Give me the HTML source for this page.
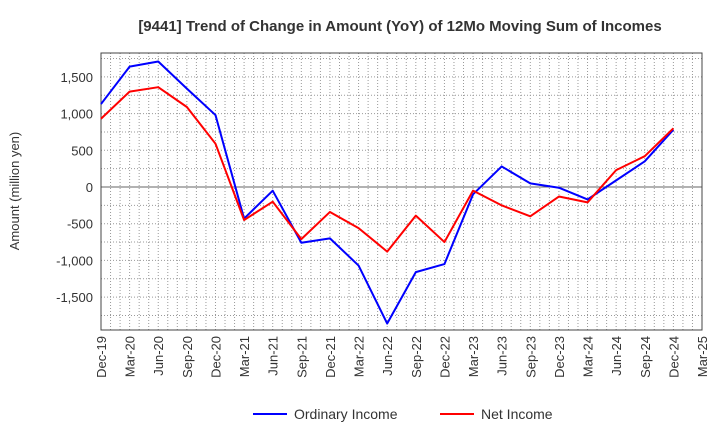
<!DOCTYPE html>
<html><head><meta charset="utf-8"><style>
body{margin:0;background:#fff;font-family:"Liberation Sans",sans-serif}
</style></head><body>
<svg id="chart" width="720" height="440" xmlns="http://www.w3.org/2000/svg" font-family="Liberation Sans, sans-serif">
<text x="400" y="31" text-anchor="middle" font-size="15" font-weight="bold" fill="#333">[9441]  Trend of Change in Amount (YoY) of 12Mo Moving Sum of Incomes</text>
<text transform="translate(19,191) rotate(-90)" text-anchor="middle" font-size="13" fill="#333">Amount (million yen)</text>
<g id="grid"></g><g id="axes"></g><g id="series"></g>
<g>
<line x1="253" y1="414" x2="287" y2="414" stroke="#0000ff" stroke-width="2"/>
<text x="294" y="419" font-size="14" fill="#333">Ordinary Income</text>
<line x1="440" y1="414" x2="474" y2="414" stroke="#ff0000" stroke-width="2"/>
<text x="481" y="419" font-size="14" fill="#333">Net Income</text>
</g>
</svg>
<script>
const categories=["Dec-19","Mar-20","Jun-20","Sep-20","Dec-20","Mar-21","Jun-21","Sep-21","Dec-21","Mar-22","Jun-22","Sep-22","Dec-22","Mar-23","Jun-23","Sep-23","Dec-23","Mar-24","Jun-24","Sep-24","Dec-24","Mar-25"];
const ordinaryIncome=[1130,1640,1710,1340,980,-430,-50,-760,-700,-1070,-1860,-1160,-1050,-100,280,50,-10,-170,90,350,780];
const netIncome=[930,1300,1360,1090,590,-450,-200,-710,-340,-560,-880,-390,-750,-50,-250,-400,-130,-210,230,420,800];
const yTicks=[1500,1000,500,0,-500,-1000,-1500];
const yTickLabels=["1,500","1,000","500","0","-500","-1,000","-1,500"];
const L=101,R=702,T=53,B=330;
const x=i=>L+i*(R-L)/(categories.length-1);
const y=v=>187-v*36.7/500;
const NS="http://www.w3.org/2000/svg";
function mk(parent,tag,attrs){const e=document.createElementNS(NS,tag);for(const k in attrs)e.setAttribute(k,attrs[k]);parent.appendChild(e);return e;}
const grid=document.getElementById('grid'),axes=document.getElementById('axes'),ser=document.getElementById('series');
for(let i=0;i<(categories.length-1)*3;i++){const xx=L+i*(R-L)/((categories.length-1)*3);
 const l=mk(grid,'line',{x1:xx,x2:xx,y1:T,y2:B,stroke:'#999','stroke-dasharray':'1,2','stroke-width':1});
 
 }
for(let v=-1750;v<=1750;v+=250){if(v===0)continue;const l=mk(grid,'line',{x1:L,x2:R,y1:y(v),y2:y(v),stroke:'#999','stroke-dasharray':'1,2','stroke-width':1});
 
 }
const z=mk(grid,'line',{x1:L,x2:R,y1:y(0),y2:y(0),stroke:'#666','stroke-width':1});


const fr=mk(axes,'rect',{x:L,y:T,width:R-L,height:B-T,fill:'none',stroke:'#444','stroke-width':1});


yTicks.forEach((v,i)=>{const t=mk(axes,'text',{x:L-8,y:y(v)+5,'text-anchor':'end','font-size':13,fill:'#333'});t.textContent=yTickLabels[i];
 
 });
categories.forEach((c,i)=>{const t=mk(axes,'text',{transform:`translate(${x(i)+5},${B+6}) rotate(-90)`,'text-anchor':'end','font-size':13,fill:'#333'});t.textContent=c;
 
 });
function line(data,color,name){const p=mk(ser,'polyline',{points:data.map((v,i)=>x(i)+','+y(v)).join(' '),fill:'none',stroke:color,'stroke-width':2,'stroke-linejoin':'round'});
 
 }
line(ordinaryIncome,'#0000ff','ordinary-income-line');
line(netIncome,'#ff0000','net-income-line');
</script>
</body></html>
